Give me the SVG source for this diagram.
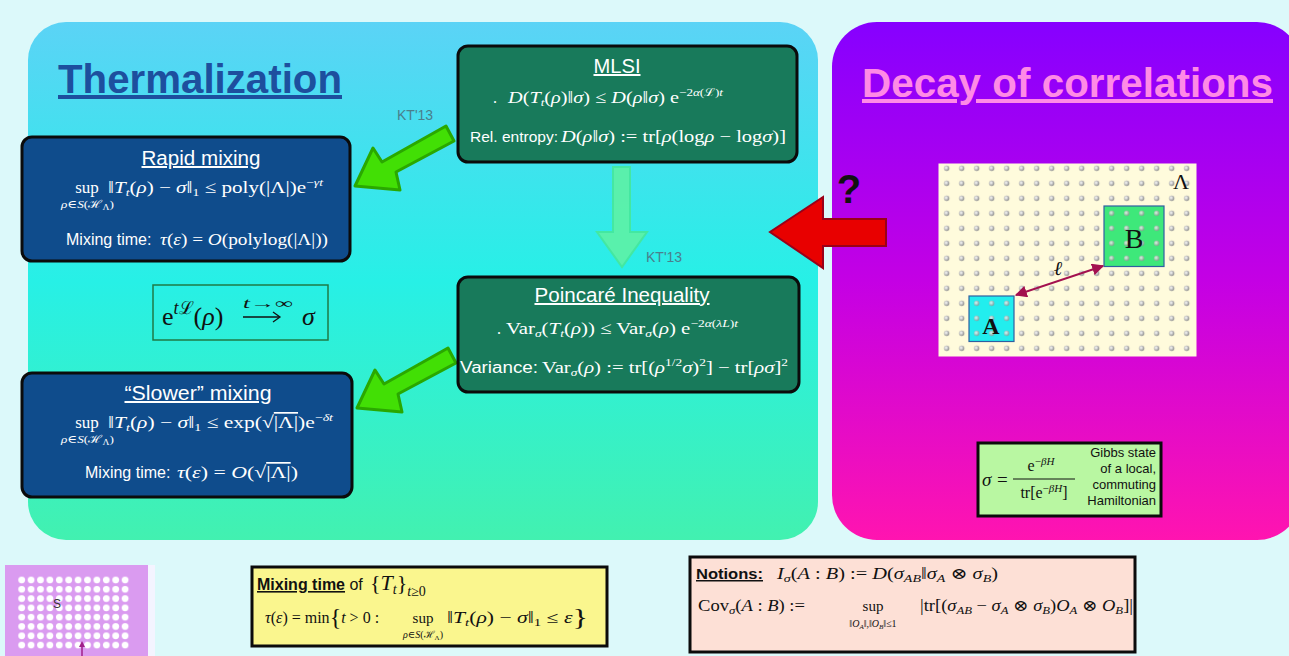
<svg xmlns="http://www.w3.org/2000/svg" width="1289" height="656" viewBox="0 0 1289 656">
<defs>
<style>
.m{font-family:"Liberation Serif","DejaVu Serif",serif;}
.sa{font-family:"Liberation Sans",Arial,sans-serif;}
.i{font-style:italic}
.w{fill:#ffffff}
.k{fill:#111111}
.bg{fill:#187a5b;stroke:#0b0b0b;stroke-width:3}
.bb{fill:#0f4c8c;stroke:#0b0b0b;stroke-width:3}
.ttl{font-family:"Liberation Sans",Arial,sans-serif;font-size:20px;fill:#ffffff;text-decoration:underline;text-anchor:middle}
.garrow{fill:#42df05;stroke:#2aa800;stroke-width:3;stroke-linejoin:round}
.kt{font-family:"Liberation Sans",Arial,sans-serif;font-size:14px;fill:#4a7f8c}
</style>
<linearGradient id="thermo" x1="0" y1="0" x2="0" y2="1">
<stop offset="0" stop-color="#5bd3f6"/>
<stop offset="0.5" stop-color="#27f0e6"/>
<stop offset="1" stop-color="#42f1b0"/>
</linearGradient>
<linearGradient id="decay" x1="0" y1="0" x2="0" y2="1">
<stop offset="0" stop-color="#8600ff"/>
<stop offset="0.5" stop-color="#c400e4"/>
<stop offset="1" stop-color="#ff14b0"/>
</linearGradient>
<radialGradient id="ball" cx="0.4" cy="0.4" r="0.6">
<stop offset="0" stop-color="#ffffff"/>
<stop offset="1" stop-color="#8e8e8e"/>
</radialGradient>
<pattern id="dots" x="939.2" y="160.8" width="15" height="15" patternUnits="userSpaceOnUse">
<circle cx="7.5" cy="7.5" r="2.7" fill="url(#ball)"/>
</pattern>
<pattern id="wdots" x="17.4" y="575.7" width="9.4" height="9.3" patternUnits="userSpaceOnUse">
<circle cx="4.3" cy="4.3" r="3.4" fill="#ffffff"/>
</pattern>
<marker id="ah" viewBox="0 0 10 10" refX="9" refY="5" markerWidth="6" markerHeight="6" orient="auto-start-reverse">
<path d="M0,0 L10,5 L0,10 z" fill="#a3104f"/>
</marker>
</defs>

<rect x="0" y="0" width="1289" height="656" fill="#dcf9fa"/>

<g id="panel-thermalization">
<rect x="28" y="22" width="790" height="518" rx="38" fill="url(#thermo)"/>
<text x="58" y="93" class="sa" font-size="40" font-weight="bold" fill="#1d4f9e" text-decoration="underline" textLength="284" lengthAdjust="spacingAndGlyphs">Thermalization</text>
</g>

<g id="panel-decay">
<rect x="832" y="22" width="470" height="518" rx="45" fill="url(#decay)"/>
<text x="862" y="97" class="sa" font-size="40" font-weight="bold" fill="#ff8ae6" text-decoration="underline" textLength="411" lengthAdjust="spacingAndGlyphs">Decay of correlations</text>
</g>

<g id="connectors">
<polygon class="garrow" points="446,126 454,141 396,172 400,190 355,186 373,148 382,162"/>
<polygon class="garrow" transform="translate(2,222)" points="446,126 454,141 396,172 400,190 355,186 373,148 382,162"/>
<polygon points="613,167 630,167 630,232 647,232 622,267 597,232 613,232" fill="#5ef2a6" stroke="#46e89a" stroke-width="2" opacity="0.9"/>
<polygon points="886,219 886,246 823,246 823,268 770,232 823,197 823,219" fill="#e80000" stroke="#9a0018" stroke-width="2"/>
<text x="397" y="120" class="kt">KT'13</text>
<text x="646" y="262" class="kt">KT'13</text>
<text x="849" y="203" class="sa" font-size="40" font-weight="bold" fill="#111" text-anchor="middle">?</text>
</g>

<g id="node-mlsi">
<rect class="bg" x="458" y="46" width="339" height="116" rx="10"/>
<text class="ttl" x="617" y="73" textLength="47" lengthAdjust="spacingAndGlyphs">MLSI</text>
<text class="m w" x="493" y="103" font-size="16">.</text>
<text class="m w" x="508" y="103" font-size="17" textLength="215" lengthAdjust="spacingAndGlyphs"><tspan class="i">D</tspan>(<tspan class="i">T</tspan><tspan class="i" dy="3" font-size="11">t</tspan><tspan dy="-3">(</tspan><tspan class="i">ρ</tspan>)‖<tspan class="i">σ</tspan>) ≤ <tspan class="i">D</tspan>(<tspan class="i">ρ</tspan>‖<tspan class="i">σ</tspan>) e<tspan dy="-7" font-size="11">−2<tspan class="i">α</tspan>(ℒ)<tspan class="i">t</tspan></tspan></text>
<text class="sa w" x="470" y="142" font-size="15" textLength="88" lengthAdjust="spacingAndGlyphs">Rel. entropy:</text>
<text class="m w" x="561" y="142" font-size="17" textLength="225" lengthAdjust="spacingAndGlyphs"><tspan class="i">D</tspan>(<tspan class="i">ρ</tspan>‖<tspan class="i">σ</tspan>) := tr[<tspan class="i">ρ</tspan>(log<tspan class="i">ρ</tspan> − log<tspan class="i">σ</tspan>)]</text>
</g>

<g id="node-rapid">
<rect class="bb" x="22" y="137" width="328" height="124" rx="10"/>
<text class="ttl" x="201" y="165" textLength="119" lengthAdjust="spacingAndGlyphs">Rapid mixing</text>
<text class="m w" x="87" y="193" font-size="17" text-anchor="middle">sup</text>
<text class="m w" x="61" y="208" font-size="11" textLength="53" lengthAdjust="spacingAndGlyphs"><tspan class="i">ρ</tspan>∈<tspan class="i">S</tspan>(ℋ<tspan dy="2" font-size="8">Λ</tspan><tspan dy="-2">)</tspan></text>
<text class="m w" x="108" y="193" font-size="17" textLength="215" lengthAdjust="spacingAndGlyphs">‖<tspan class="i">T</tspan><tspan class="i" dy="3" font-size="11">t</tspan><tspan dy="-3">(</tspan><tspan class="i">ρ</tspan>) − <tspan class="i">σ</tspan>‖<tspan dy="3" font-size="11">1</tspan><tspan dy="-3"> ≤ poly(|Λ|)e</tspan><tspan dy="-7" font-size="11">−<tspan class="i">γt</tspan></tspan></text>
<text class="sa w" x="66" y="245" font-size="16">Mixing time:</text>
<text class="m w" x="160" y="245" font-size="17" textLength="168" lengthAdjust="spacingAndGlyphs"><tspan class="i">τ</tspan>(<tspan class="i">ε</tspan>) = <tspan class="i">O</tspan>(polylog(|Λ|))</text>
</g>

<g id="node-steady">
<rect x="153" y="285" width="175" height="55" fill="none" stroke="#1f7a45" stroke-width="1.5"/>
<text class="m k" x="162" y="325" font-size="26">e<tspan dy="-11" font-size="18" class="i">t</tspan><tspan font-size="18">ℒ</tspan><tspan dy="11">(</tspan><tspan class="i">ρ</tspan>)</text>
<text class="m k" x="243" y="308" font-size="14" textLength="50" lengthAdjust="spacingAndGlyphs"><tspan class="i">t</tspan>→∞</text>
<line x1="243" y1="317" x2="279" y2="317" stroke="#111" stroke-width="1.3"/>
<path d="M273,312 L280,317 L273,322" fill="none" stroke="#111" stroke-width="1.3"/>
<text class="m k i" x="302" y="325" font-size="26">σ</text>
</g>

<g id="node-poincare">
<rect class="bg" x="458" y="277" width="341" height="115" rx="10"/>
<text class="ttl" x="622" y="302" textLength="175" lengthAdjust="spacingAndGlyphs">Poincaré Inequality</text>
<text class="m w" x="497" y="334" font-size="16">.</text>
<text class="m w" x="506" y="334" font-size="17" textLength="232" lengthAdjust="spacingAndGlyphs">Var<tspan class="i" dy="3" font-size="11">σ</tspan><tspan dy="-3">(</tspan><tspan class="i">T</tspan><tspan class="i" dy="3" font-size="11">t</tspan><tspan dy="-3">(</tspan><tspan class="i">ρ</tspan>)) ≤ Var<tspan class="i" dy="3" font-size="11">σ</tspan><tspan dy="-3">(</tspan><tspan class="i">ρ</tspan>) e<tspan dy="-7" font-size="11">−2<tspan class="i">α</tspan>(<tspan class="i">λL</tspan>)<tspan class="i">t</tspan></tspan></text>
<text class="sa w" x="460" y="373" font-size="16" textLength="78" lengthAdjust="spacingAndGlyphs">Variance:</text>
<text class="m w" x="542" y="373" font-size="17" textLength="246" lengthAdjust="spacingAndGlyphs">Var<tspan class="i" dy="3" font-size="11">σ</tspan><tspan dy="-3">(</tspan><tspan class="i">ρ</tspan>) := tr[(<tspan class="i">ρ</tspan><tspan dy="-7" font-size="11">1/2</tspan><tspan dy="7" class="i">σ</tspan>)<tspan dy="-7" font-size="11">2</tspan><tspan dy="7">] − tr[</tspan><tspan class="i">ρσ</tspan>]<tspan dy="-7" font-size="11">2</tspan></text>
</g>

<g id="node-slower">
<rect class="bb" x="22" y="373" width="330" height="124" rx="10"/>
<text class="ttl" x="198" y="400" textLength="147" lengthAdjust="spacingAndGlyphs">“Slower” mixing</text>
<text class="m w" x="87" y="428" font-size="17" text-anchor="middle">sup</text>
<text class="m w" x="61" y="443" font-size="11" textLength="53" lengthAdjust="spacingAndGlyphs"><tspan class="i">ρ</tspan>∈<tspan class="i">S</tspan>(ℋ<tspan dy="2" font-size="8">Λ</tspan><tspan dy="-2">)</tspan></text>
<text class="m w" x="108" y="428" font-size="17" textLength="225" lengthAdjust="spacingAndGlyphs">‖<tspan class="i">T</tspan><tspan class="i" dy="3" font-size="11">t</tspan><tspan dy="-3">(</tspan><tspan class="i">ρ</tspan>) − <tspan class="i">σ</tspan>‖<tspan dy="3" font-size="11">1</tspan><tspan dy="-3"> ≤ exp(√</tspan><tspan style="text-decoration:overline">|Λ|</tspan>)e<tspan dy="-7" font-size="11">−<tspan class="i">δt</tspan></tspan></text>
<text class="sa w" x="85" y="478" font-size="16">Mixing time:</text>
<text class="m w" x="177" y="478" font-size="17" textLength="121" lengthAdjust="spacingAndGlyphs"><tspan class="i">τ</tspan>(<tspan class="i">ε</tspan>) = <tspan class="i">O</tspan>(√<tspan style="text-decoration:overline">|Λ|</tspan>)</text>
</g>

<g id="node-lattice">
<rect x="938.5" y="163.5" width="258" height="193" fill="#fffbdc"/>
<rect x="938.5" y="163.5" width="258" height="193" fill="url(#dots)"/>
<rect x="1104" y="206" width="60" height="60.5" fill="#3ee87a" stroke="#2f5fa0" stroke-width="1.2"/>
<rect x="1104" y="206" width="60" height="60.5" fill="url(#dots)" opacity="0.8"/>
<rect x="969" y="296" width="45" height="45.5" fill="#22eeee" stroke="#2f5fa0" stroke-width="1.2"/>
<rect x="969" y="296" width="45" height="45.5" fill="url(#dots)" opacity="0.8"/>
<text class="m k" x="1134" y="248" font-size="28" text-anchor="middle">B</text>
<text class="m k" x="991" y="334" font-size="24" font-weight="bold" text-anchor="middle">A</text>
<text class="m k" x="1181" y="189" font-size="22" text-anchor="middle">Λ</text>
<line x1="1016" y1="295" x2="1103" y2="266" stroke="#a3104f" stroke-width="2" marker-start="url(#ah)" marker-end="url(#ah)"/>
<text class="m k i" x="1058" y="275" font-size="20" text-anchor="middle">ℓ</text>
</g>

<g id="node-gibbs">
<rect x="978" y="443" width="183" height="73" fill="#b9f7a2" stroke="#0b0b0b" stroke-width="3"/>
<text class="m k i" x="982" y="486" font-size="19">σ</text>
<text class="m k" x="997" y="486" font-size="19">=</text>
<text class="m k" x="1041" y="471" font-size="16" text-anchor="middle">e<tspan dy="-6" font-size="11">−<tspan class="i">βH</tspan></tspan></text>
<line x1="1013" y1="479" x2="1075" y2="479" stroke="#111" stroke-width="1"/>
<text class="m k" x="1044" y="498" font-size="16" text-anchor="middle">tr[e<tspan dy="-6" font-size="11">−<tspan class="i">βH</tspan></tspan><tspan dy="6">]</tspan></text>
<text class="sa k" font-size="13" text-anchor="end"><tspan x="1156" y="457">Gibbs state</tspan><tspan x="1156" y="473">of a local,</tspan><tspan x="1156" y="489">commuting</tspan><tspan x="1156" y="505">Hamiltonian</tspan></text>
</g>

<g id="node-thumbnail">
<rect x="5" y="565" width="143" height="91" fill="#da9bf0"/>
<rect x="148" y="565" width="7" height="91" fill="#f4f4ff"/>
<rect x="17" y="575.7" width="113" height="75" fill="url(#wdots)"/>
<text class="sa" x="53" y="608" font-size="12" fill="#333">S</text>
<line x1="82" y1="656" x2="82" y2="644" stroke="#a0208a" stroke-width="1.5"/>
<path d="M79,647 L82,641 L85,647 z" fill="#a0208a"/>
</g>

<g id="node-mixingtime">
<rect x="252" y="567" width="355" height="79" fill="#faf68e" stroke="#0b0b0b" stroke-width="3"/>
<text class="sa k" x="257" y="590" font-size="16"><tspan font-weight="bold" text-decoration="underline">Mixing time</tspan> of</text>
<text class="m k" x="370" y="590" font-size="22">{<tspan class="i">T</tspan><tspan class="i" dy="4" font-size="14">t</tspan><tspan dy="-4">}</tspan><tspan dy="6" font-size="14"><tspan class="i">t</tspan>≥0</tspan></text>
<text class="m k" x="265" y="623" font-size="16"><tspan class="i">τ</tspan>(<tspan class="i">ε</tspan>) = min<tspan font-size="24" dy="2">{</tspan><tspan dy="-2" class="i">t</tspan> &gt; 0 :</text>
<text class="m k" x="423" y="623" font-size="15" text-anchor="middle">sup</text>
<text class="m k" x="423" y="638" font-size="10" text-anchor="middle"><tspan class="i">ρ</tspan>∈<tspan class="i">S</tspan>(ℋ<tspan dy="2" font-size="7">Λ</tspan><tspan dy="-2">)</tspan></text>
<text class="m k" x="447" y="623" font-size="16" textLength="141" lengthAdjust="spacingAndGlyphs">‖<tspan class="i">T</tspan><tspan class="i" dy="3" font-size="11">t</tspan><tspan dy="-3">(</tspan><tspan class="i">ρ</tspan>) − <tspan class="i">σ</tspan>‖<tspan dy="3" font-size="11">1</tspan><tspan dy="-3"> ≤ </tspan><tspan class="i">ε</tspan><tspan font-size="24" dy="2">}</tspan></text>
</g>

<g id="node-notions">
<rect x="690" y="557" width="445" height="95" fill="#fde0d6" stroke="#0b0b0b" stroke-width="3"/>
<text class="sa k" x="696" y="579" font-size="15" font-weight="bold" text-decoration="underline" textLength="67" lengthAdjust="spacingAndGlyphs">Notions:</text>
<text class="m k" x="777" y="579" font-size="16" textLength="221" lengthAdjust="spacingAndGlyphs"><tspan class="i">I</tspan><tspan class="i" dy="3" font-size="11">σ</tspan><tspan dy="-3">(</tspan><tspan class="i">A</tspan> : <tspan class="i">B</tspan>) := <tspan class="i">D</tspan>(<tspan class="i">σ</tspan><tspan class="i" dy="3" font-size="11">AB</tspan><tspan dy="-3">‖</tspan><tspan class="i">σ</tspan><tspan class="i" dy="3" font-size="11">A</tspan><tspan dy="-3"> ⊗ </tspan><tspan class="i">σ</tspan><tspan class="i" dy="3" font-size="11">B</tspan><tspan dy="-3">)</tspan></text>
<text class="m k" x="698" y="611" font-size="16" textLength="107" lengthAdjust="spacingAndGlyphs">Cov<tspan class="i" dy="3" font-size="11">σ</tspan><tspan dy="-3">(</tspan><tspan class="i">A</tspan> : <tspan class="i">B</tspan>) :=</text>
<text class="m k" x="873" y="611" font-size="15" text-anchor="middle">sup</text>
<text class="m k" x="873" y="627" font-size="10" text-anchor="middle">‖<tspan class="i">O</tspan><tspan class="i" dy="2" font-size="7">A</tspan><tspan dy="-2">‖,‖</tspan><tspan class="i">O</tspan><tspan class="i" dy="2" font-size="7">B</tspan><tspan dy="-2">‖≤1</tspan></text>
<text class="m k" x="920" y="611" font-size="16" textLength="213" lengthAdjust="spacingAndGlyphs">|tr[(<tspan class="i">σ</tspan><tspan class="i" dy="3" font-size="11">AB</tspan><tspan dy="-3"> − </tspan><tspan class="i">σ</tspan><tspan class="i" dy="3" font-size="11">A</tspan><tspan dy="-3"> ⊗ </tspan><tspan class="i">σ</tspan><tspan class="i" dy="3" font-size="11">B</tspan><tspan dy="-3">)</tspan><tspan class="i">O</tspan><tspan class="i" dy="3" font-size="11">A</tspan><tspan dy="-3"> ⊗ </tspan><tspan class="i">O</tspan><tspan class="i" dy="3" font-size="11">B</tspan><tspan dy="-3">]|</tspan></text>
</g>
</svg>
